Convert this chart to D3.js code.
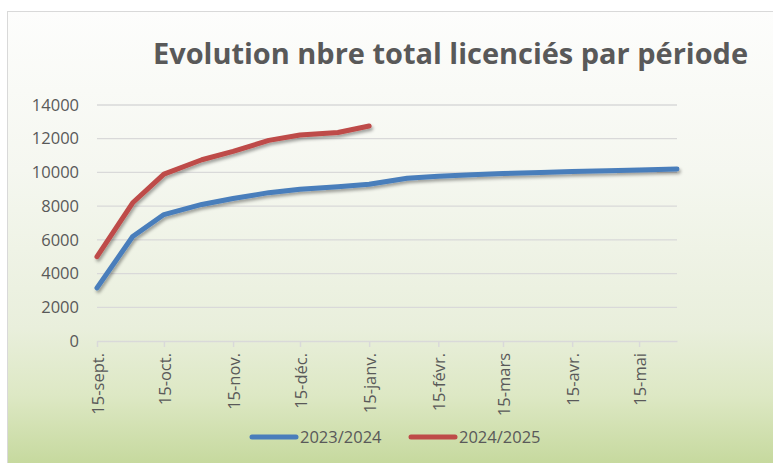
<!DOCTYPE html>
<html>
<head>
<meta charset="utf-8">
<script src="https://cdn.jsdelivr.net/npm/d3@7"></script>
<style>
  html, body { margin: 0; padding: 0; background: #ffffff; }
  svg { display: block; }
</style>
</head>
<body>
<svg id="chart" width="773" height="463"></svg>
<script>
const title = "Evolution nbre total licenciés par période";
const dates = ["2023-09-15","2023-10-01","2023-10-15","2023-11-01","2023-11-15","2023-12-01","2023-12-15","2024-01-01","2024-01-15","2024-02-01","2024-02-15","2024-03-01","2024-03-15","2024-04-01","2024-04-15","2024-05-01","2024-05-15","2024-06-01"];
const seriesNames = ["2023/2024", "2024/2025"];
const values2324 = [3150, 6200, 7500, 8100, 8450, 8800, 9000, 9150, 9300, 9660, 9770, 9860, 9930, 9990, 10050, 10100, 10150, 10200];
const values2425 = [5000, 8200, 9900, 10750, 11250, 11900, 12220, 12370, 12750];
const yTicks = [0, 2000, 4000, 6000, 8000, 10000, 12000, 14000];
const xTickDates = ["2023-09-15","2023-10-15","2023-11-15","2023-12-15","2024-01-15","2024-02-15","2024-03-15","2024-04-15","2024-05-15"];
const xTickLabels = ["15-sept.","15-oct.","15-nov.","15-déc.","15-janv.","15-févr.","15-mars","15-avr.","15-mai"];
const colors = ["#4a7ebb", "#be4b48"];

const parse = d3.timeParse("%Y-%m-%d");
const svg = d3.select("#chart");
const W = 773, H = 463;
const textColor = "#595959";
const font = "'Open Sans', 'Liberation Sans', sans-serif";

const defs = svg.append("defs");
const grad = defs.append("linearGradient").attr("id", "bg").attr("x1", 0).attr("y1", 0).attr("x2", 0).attr("y2", 1);
[[0, "#fdfdfc"], [0.35, "#f5f7f0"], [0.7, "#e9efdc"], [0.85, "#dde8c4"], [1, "#c6d99e"]].forEach(([o, c]) =>
  grad.append("stop").attr("offset", o).attr("stop-color", c));
const f = defs.append("filter").attr("id", "shadow").attr("x", "-10%").attr("y", "-10%").attr("width", "120%").attr("height", "130%");
f.append("feDropShadow").attr("dx", 1.5).attr("dy", 2.5).attr("stdDeviation", 1.5).attr("flood-color", "#000").attr("flood-opacity", 0.35);

// chart area
svg.append("rect").attr("x", 7.5).attr("y", 11.5).attr("width", W - 7).attr("height", H - 11)
  .attr("fill", "url(#bg)").attr("stroke", "#d9d9d9").attr("stroke-width", 1);

// title
svg.append("text").attr("x", 153).attr("y", 64)
  .attr("font-family", font).attr("font-weight", 700).attr("font-size", 28)
  .attr("fill", textColor).attr("textLength", 595).attr("lengthAdjust", "spacingAndGlyphs")
  .text(title);

const x = d3.scaleTime().domain([parse(dates[0]), parse(dates[dates.length - 1])]).range([97, 677]);
const y = d3.scaleLinear().domain([0, 14000]).range([341, 105]);

// gridlines
svg.append("g").selectAll("line").data(yTicks.filter(t => t > 0)).join("line")
  .attr("x1", 97).attr("x2", 677).attr("y1", d => y(d)).attr("y2", d => y(d))
  .attr("stroke", "#d9d9d9").attr("stroke-width", 1.3);

// y axis labels
const yAxis = d3.axisLeft(y).tickValues(yTicks).tickSize(0).tickPadding(0).tickFormat(d3.format("d"));
const gy = svg.append("g").attr("transform", "translate(79,0)").call(yAxis);
gy.select(".domain").remove();
gy.selectAll("text").attr("font-family", font).attr("font-size", 16.5).attr("fill", textColor);

// x axis
const xAxis = d3.axisBottom(x).tickValues(xTickDates.map(parse)).tickSize(6).tickSizeOuter(0)
  .tickFormat((d, i) => xTickLabels[i]);
const gx = svg.append("g").attr("transform", "translate(0,341)").call(xAxis);
gx.select(".domain").attr("stroke", "#d9d9d9").attr("stroke-width", 1.5);
gx.selectAll(".tick line").attr("stroke", "#d9d9d9").attr("stroke-width", 1.5);
gx.selectAll("text").attr("font-family", font).attr("font-size", 16.5).attr("fill", textColor)
  .attr("text-anchor", "end").attr("transform", "rotate(-90)")
  .attr("x", -12).attr("y", 0).attr("dy", "0.4em");

// lines
const line = d3.line().x(d => x(d[0])).y(d => y(d[1])).curve(d3.curveLinear);
const seriesData = [values2324, values2425].map(vals => vals.map((v, i) => [parse(dates[i]), v]));
svg.append("g").selectAll("path").data(seriesData).join("path")
  .attr("d", line).attr("fill", "none")
  .attr("stroke", (d, i) => colors[i]).attr("stroke-width", 5)
  .attr("stroke-linejoin", "round").attr("stroke-linecap", "round")
  .attr("filter", "url(#shadow)");

// legend
const legendX = [252, 411];
const lg = svg.append("g").selectAll("g").data(seriesNames).join("g")
  .attr("transform", (d, i) => `translate(${legendX[i]},437)`);
lg.append("line").attr("x1", 0).attr("x2", 44).attr("y1", 0).attr("y2", 0)
  .attr("stroke", (d, i) => colors[i]).attr("stroke-width", 5).attr("stroke-linecap", "round");
lg.append("text").attr("x", 48).attr("y", 0).attr("dy", "0.36em")
  .attr("font-family", font).attr("font-size", 16.5).attr("fill", textColor)
  .text(d => d);
</script>
</body>
</html>
